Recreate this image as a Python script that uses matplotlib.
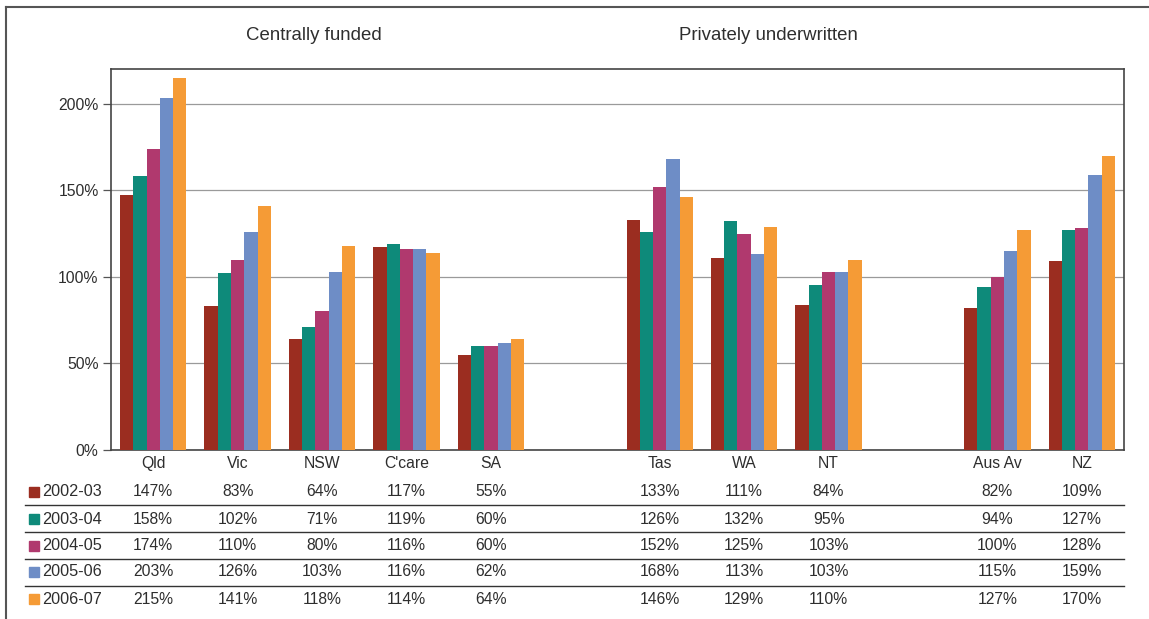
import matplotlib
matplotlib.use("Agg")
import matplotlib.pyplot as plt
import matplotlib.transforms as mtransforms
from matplotlib.lines import Line2D
from matplotlib.patches import Rectangle
import numpy as np

plt.rcParams['font.family'] = ['Liberation Sans', 'DejaVu Sans']

categories = ["Qld", "Vic", "NSW", "C'care", "SA", "Tas", "WA", "NT", "Aus Av", "NZ"]
slots = [0, 1, 2, 3, 4, 6, 7, 8, 10, 11]
years = ["2002-03", "2003-04", "2004-05", "2005-06", "2006-07"]
v2002 = [147, 83, 64, 117, 55, 133, 111, 84, 82, 109]
v2003 = [158, 102, 71, 119, 60, 126, 132, 95, 94, 127]
v2004 = [174, 110, 80, 116, 60, 152, 125, 103, 100, 128]
v2005 = [203, 126, 103, 116, 62, 168, 113, 103, 115, 159]
v2006 = [215, 141, 118, 114, 64, 146, 129, 110, 127, 170]
series = [v2002, v2003, v2004, v2005, v2006]
colors = ["#9B2D20", "#0E8A7A", "#B0396E", "#6E8DC6", "#F59B36"]

TXT = "#2e2e2e"
FS = 11.3

W, H = 1149, 619
fig = plt.figure(figsize=(W / 100, H / 100), dpi=100)
ax = fig.add_axes([111 / W, 1 - 450 / H, (1124 - 111) / W, (450 - 69) / H])

bw = 0.157
x = np.array(slots, dtype=float)
for i, (vals, c) in enumerate(zip(series, colors)):
    ax.bar(x + (i - 2) * bw, vals, width=bw, color=c, zorder=3)

ax.set_xlim(-0.5, 11.5)
ax.set_ylim(0, 220)
ax.set_yticks([0, 50, 100, 150, 200])
ax.set_yticklabels(["0%", "50%", "100%", "150%", "200%"], fontsize=FS, color=TXT)
ax.yaxis.grid(True, color="#9a9a9a", linewidth=0.9, zorder=0)
ax.tick_params(axis='y', length=6, width=0.9, color="#555555", pad=3)
ax.set_xticks([])
for s in ax.spines.values():
    s.set_color("#444444")
    s.set_linewidth(1.2)

trans = mtransforms.blended_transform_factory(ax.transData, fig.transFigure)

def fy(py):
    return 1 - py / H

# category labels
for cx, cat in zip(slots, categories):
    fig.text(cx, fy(468), cat, transform=trans, ha='center', va='baseline',
             fontsize=FS, color=TXT)

row_y = [492, 519, 546, 572, 599]
for ry, yr, vals, c in zip(row_y, years, series, colors):
    fig.patches.append(Rectangle((29 / W, fy(ry) - 5 / H), 10 / W, 10 / H,
                                 transform=fig.transFigure, color=c, figure=fig))
    fig.text(42 / W, fy(ry), yr, ha='left', va='center', fontsize=11.7, color=TXT)
    for cx, v in zip(slots, vals):
        fig.text(cx, fy(ry), f"{v}%", transform=trans, ha='center', va='center',
                 fontsize=FS, color=TXT)

for ly in [505, 532, 559, 586]:
    fig.lines.append(Line2D([25 / W, 1124 / W], [fy(ly), fy(ly)], transform=fig.transFigure,
                            color="#333333", linewidth=1.0))

# outer frame (left and top)
fig.lines.append(Line2D([6 / W, 6 / W], [fy(7), 0], transform=fig.transFigure,
                        color="#555555", linewidth=1.5))
fig.lines.append(Line2D([6 / W, 1], [fy(7), fy(7)], transform=fig.transFigure,
                        color="#555555", linewidth=1.5))

fig.text(314 / W, fy(35), "Centrally funded", ha='center', va='center', fontsize=13.4, color=TXT)
fig.text(768 / W, fy(35), "Privately underwritten", ha='center', va='center', fontsize=13.4, color=TXT)

fig.savefig("out.png", dpi=100)
